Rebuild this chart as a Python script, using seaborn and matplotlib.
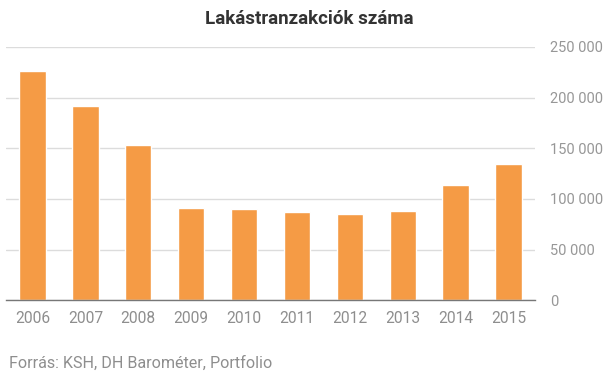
import pandas as pd
import matplotlib as mpl
mpl.use('Agg')
from matplotlib import pyplot as plt
from matplotlib.ticker import FuncFormatter
import seaborn as sns

years = ['2006', '2007', '2008', '2009', '2010', '2011', '2012', '2013', '2014', '2015']
transactions = [226000, 191400, 153700, 91400, 90400, 87400, 85400, 88400, 114100, 134900]
y_ticks = [0, 50000, 100000, 150000, 200000, 250000]

data = pd.DataFrame({'year': years, 'count': transactions})

sns.set_style('white')
plt.rcParams['font.family'] = ['Roboto', 'DejaVu Sans']

fig = plt.figure(figsize=(6.05, 3.79), dpi=100)
ax = fig.add_axes([6 / 605, 1 - 300.3 / 379, 529 / 605, 253.3 / 379])

sns.barplot(data=data, x='year', y='count', color='#F59B45', width=0.5,
            saturation=1, ax=ax)

ax.set_ylim(0, 250000)
ax.set_xlim(-0.5, len(years) - 0.5)
ax.set_yticks(y_ticks)
ax.yaxis.set_major_formatter(FuncFormatter(lambda v, p: f'{int(v):,}'.replace(',', ' ')))
ax.yaxis.tick_right()
ax.yaxis.grid(True, color='#dcdcdc', lw=1)
ax.set_axisbelow(True)
ax.tick_params(axis='y', length=0, pad=10.8, labelsize=10.5, labelcolor='#979797')
ax.tick_params(axis='x', length=0, pad=8, labelsize=11.2, labelcolor='#8e8e8e')
ax.set_xlabel('')
ax.set_ylabel('')

for s in ['top', 'left', 'right']:
    ax.spines[s].set_visible(False)
ax.spines['bottom'].set_color('#777777')
ax.spines['bottom'].set_linewidth(1)

fig.text(309 / 605, 1 - 18.5 / 379, 'Lakástranzakciók száma', ha='center', va='center',
         fontsize=13.5, fontweight='bold', color='#333333')
fig.text(9 / 605, 1 - 363 / 379, 'Forrás: KSH, DH Barométer, Portfolio', ha='left',
         va='center', fontsize=11.6, color='#8e8e8e')

fig.savefig('out.png', dpi=100)
